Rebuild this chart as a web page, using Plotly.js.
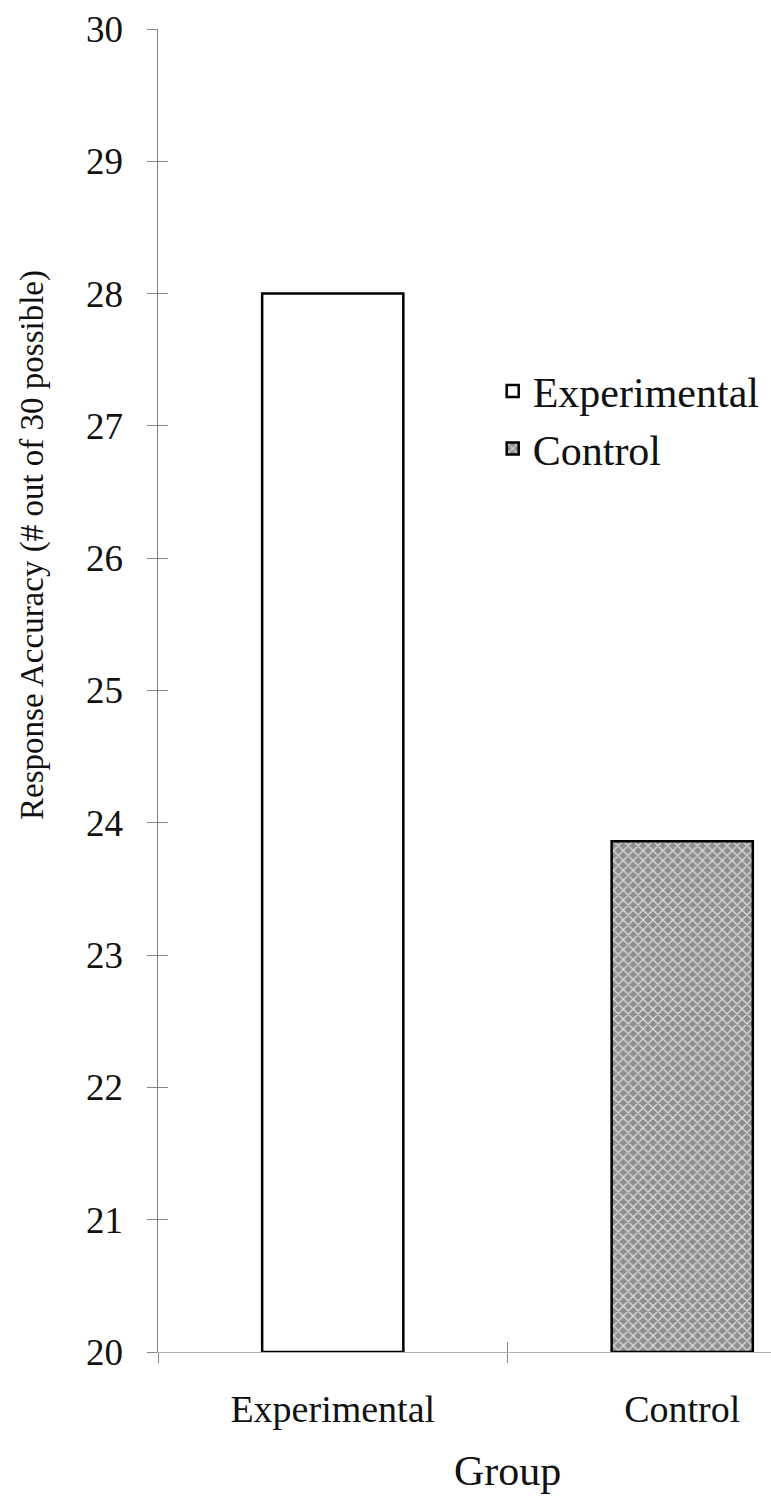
<!DOCTYPE html>
<html>
<head>
<meta charset="utf-8">
<script src="https://cdn.plot.ly/plotly-3.0.1.min.js"></script>
<style>
html,body{margin:0;padding:0;background:#fff;overflow:hidden;}
#chart{width:771px;height:1501px;}
</style>
</head>
<body>
<div id="chart"></div>
<script>
const categories = ['Experimental', 'Control'];
const seriesNames = ['Experimental', 'Control'];
const values = [28.0, 23.86];
const yTickValues = [20, 21, 22, 23, 24, 25, 26, 27, 28, 29, 30];
const yTickLabels = ['20', '21', '22', '23', '24', '25', '26', '27', '28', '29', '30'];
const baseValue = 20;
const xTitle = 'Group';
const yTitle = 'Response Accuracy (# out of 30 possible)';

const FONT = 'Liberation Serif';

const traces = [
  {
    type: 'bar',
    name: seriesNames[0],
    legendgroup: 'g1',
    x: [categories[0]],
    y: [values[0] - baseValue],
    base: [baseValue],
    width: 0.404,
    marker: {color: '#ffffff', line: {color: '#000000', width: 2.5}},
    hoverinfo: 'skip'
  },
  {
    type: 'bar',
    name: seriesNames[1],
    legendgroup: 'g2',
    x: [categories[1]],
    y: [values[1] - baseValue],
    base: [baseValue],
    width: 0.404,
    marker: {
      color: '#8e8e8e',
      line: {color: '#000000', width: 2.5},
      pattern: {shape: 'x', bgcolor: '#8e8e8e', fgcolor: '#dcdcdc', size: 7, solidity: 0.35, fillmode: 'replace'}
    },
    hoverinfo: 'skip'
  },
  {
    type: 'scatter', x: [], y: [], xaxis: 'x2', yaxis: 'y2',
    showlegend: false, hoverinfo: 'skip'
  }
];

const layout = {
  width: 771,
  height: 1501,
  margin: {l: 158, r: 0, t: 29, b: 149},
  paper_bgcolor: '#ffffff',
  plot_bgcolor: '#ffffff',
  font: {family: FONT, color: '#111111'},
  barmode: 'overlay',
  showlegend: true,
  legend: {
    x: 0.546, y: 0.752, xanchor: 'left', yanchor: 'top',
    bgcolor: 'rgba(0,0,0,0)',
    font: {family: FONT, size: 42, color: '#111111'},
    itemwidth: 30,
    tracegroupgap: 13,
    traceorder: 'normal'
  },
  xaxis: {
    type: 'category',
    range: [-0.5, 1.254],
    tickson: 'boundaries',
    ticks: 'outside',
    ticklen: 10,
    tickwidth: 1,
    tickcolor: '#888888',
    showline: true,
    linecolor: '#b0b0b0',
    linewidth: 1,
    showgrid: false,
    zeroline: false,
    tickfont: {family: FONT, size: 38, color: '#111111'},
    ticklabelstandoff: 23,
    fixedrange: true
  },
  yaxis: {
    range: [20, 30],
    tickvals: yTickValues,
    ticktext: yTickLabels,
    ticks: 'outside',
    ticklen: 10,
    tickwidth: 1,
    tickcolor: '#888888',
    showline: true,
    linecolor: '#808080',
    linewidth: 1.5,
    showgrid: false,
    zeroline: false,
    tickfont: {family: FONT, size: 37, color: '#111111'},
    ticklabelstandoff: 16,
    fixedrange: true
  },
  xaxis2: {
    overlaying: 'x',
    anchor: 'y2',
    range: [-0.5, 1.254],
    tickvals: [0.5],
    ticks: 'inside',
    ticklen: 10,
    tickwidth: 1,
    tickcolor: '#888888',
    showticklabels: false,
    showline: false,
    showgrid: false,
    zeroline: false,
    fixedrange: true
  },
  yaxis2: {
    overlaying: 'y',
    anchor: 'x2',
    side: 'left',
    range: [20, 30],
    tickvals: yTickValues,
    ticks: 'inside',
    ticklen: 10,
    tickwidth: 1,
    tickcolor: '#888888',
    showticklabels: false,
    showline: false,
    showgrid: false,
    zeroline: false,
    fixedrange: true
  },
  annotations: [
    {
      text: xTitle, xref: 'x2', yref: 'paper', x: 0.5, y: -0.09,
      xanchor: 'center', yanchor: 'middle', showarrow: false,
      font: {family: FONT, size: 42, color: '#111111'}
    },
    {
      text: yTitle, xref: 'paper', yref: 'y', x: -0.204, y: 26.1,
      xanchor: 'center', yanchor: 'middle', textangle: -90, showarrow: false,
      font: {family: FONT, size: 33, color: '#111111'}
    }
  ]
};

Plotly.newPlot('chart', traces, layout, {displayModeBar: false, staticPlot: true});
</script>
</body>
</html>
